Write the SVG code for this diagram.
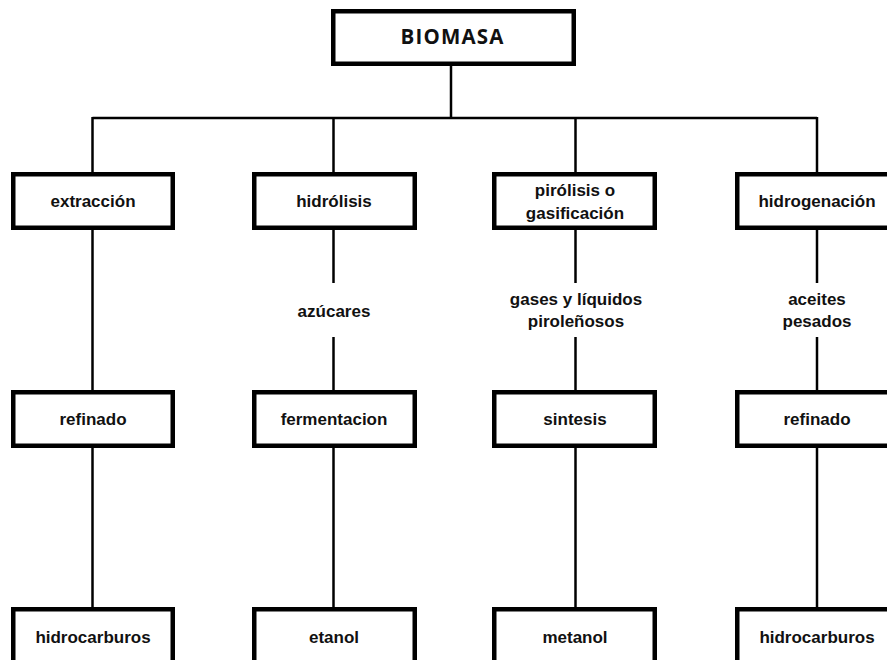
<svg xmlns="http://www.w3.org/2000/svg" width="887" height="660" viewBox="0 0 887 660">
<style>
.box{fill:#fff;stroke:#000;stroke-width:4.5}
.t{font-family:"Liberation Sans",Arial,sans-serif;font-weight:bold;font-size:17px;text-anchor:middle;fill:#111}
.title{font-family:"Open Sans","Liberation Sans",sans-serif;font-weight:bold;font-size:20.5px;text-anchor:middle;fill:#111}
.c{stroke:#000;stroke-width:2.5;fill:none}
</style>
<rect width="887" height="660" fill="#fff"/>
<g id="connectors">
<line class="c" x1="451" y1="66" x2="451" y2="118"/>
<line class="c" x1="92.5" y1="118" x2="817" y2="118"/>
<line class="c" x1="92.5" y1="117" x2="92.5" y2="172"/>
<line class="c" x1="333.5" y1="117" x2="333.5" y2="172"/>
<line class="c" x1="575.5" y1="117" x2="575.5" y2="172"/>
<line class="c" x1="817" y1="117" x2="817" y2="172"/>
<line class="c" x1="92.5" y1="230" x2="92.5" y2="390"/>
<line class="c" x1="333.5" y1="230" x2="333.5" y2="283"/>
<line class="c" x1="333.5" y1="337" x2="333.5" y2="390"/>
<line class="c" x1="575.5" y1="230" x2="575.5" y2="283"/>
<line class="c" x1="575.5" y1="337" x2="575.5" y2="390"/>
<line class="c" x1="817" y1="230" x2="817" y2="283"/>
<line class="c" x1="817" y1="337" x2="817" y2="390"/>
<line class="c" x1="92.5" y1="448" x2="92.5" y2="607"/>
<line class="c" x1="333.5" y1="448" x2="333.5" y2="607"/>
<line class="c" x1="575.5" y1="448" x2="575.5" y2="607"/>
<line class="c" x1="817" y1="448" x2="817" y2="607"/>
</g>
<g id="biomasa"><rect class="box" x="333.25" y="11.25" width="240.5" height="52.5"/><text class="title" x="452" y="44" textLength="103" lengthAdjust="spacing">BIOMASA</text></g>
<g id="extraccion"><rect class="box" x="13.25" y="174.25" width="159.5" height="53.5"/><text class="t" x="93" y="207">extracción</text></g>
<g id="hidrolisis"><rect class="box" x="254.25" y="174.25" width="160.5" height="53.5"/><text class="t" x="334" y="207">hidrólisis</text></g>
<g id="pirolisis"><rect class="box" x="494.25" y="174.25" width="160.5" height="53.5"/><text class="t" x="575" y="195.5">pirólisis o</text><text class="t" x="575" y="218.5">gasificación</text></g>
<g id="hidrogenacion"><rect class="box" x="737.25" y="174.25" width="160.5" height="53.5"/><text class="t" x="817" y="207">hidrogenación</text></g>
<g id="azucares"><text class="t" x="334" y="316.5">azúcares</text></g>
<g id="gases"><text class="t" x="576" y="305">gases y líquidos</text><text class="t" x="576" y="327">piroleñosos</text></g>
<g id="aceites"><text class="t" x="817" y="305">aceites</text><text class="t" x="817" y="327">pesados</text></g>
<g id="refinado1"><rect class="box" x="13.25" y="392.25" width="159.5" height="53.5"/><text class="t" x="93" y="425">refinado</text></g>
<g id="fermentacion"><rect class="box" x="254.25" y="392.25" width="160.5" height="53.5"/><text class="t" x="334" y="425">fermentacion</text></g>
<g id="sintesis"><rect class="box" x="494.25" y="392.25" width="160.5" height="53.5"/><text class="t" x="575" y="425">sintesis</text></g>
<g id="refinado2"><rect class="box" x="737.25" y="392.25" width="160.5" height="53.5"/><text class="t" x="817" y="425">refinado</text></g>
<g id="hidrocarburos1"><rect class="box" x="13.25" y="609.25" width="159.5" height="60"/><text class="t" x="93" y="643">hidrocarburos</text></g>
<g id="etanol"><rect class="box" x="254.25" y="609.25" width="160.5" height="60"/><text class="t" x="334" y="643">etanol</text></g>
<g id="metanol"><rect class="box" x="494.25" y="609.25" width="160.5" height="60"/><text class="t" x="575" y="643">metanol</text></g>
<g id="hidrocarburos2"><rect class="box" x="737.25" y="609.25" width="160.5" height="60"/><text class="t" x="817" y="643">hidrocarburos</text></g>
</svg>
